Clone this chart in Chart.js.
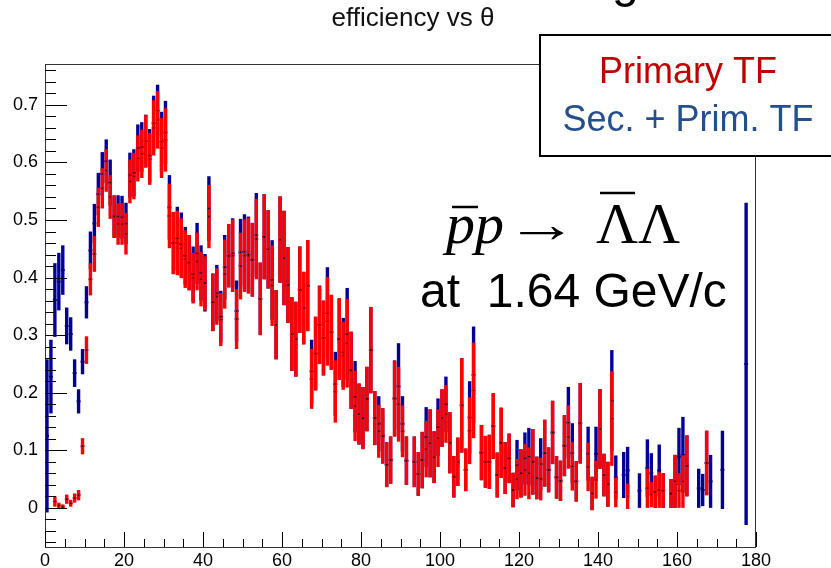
<!DOCTYPE html>
<html>
<head>
<meta charset="utf-8">
<script src="https://cdn.jsdelivr.net/npm/chart.js@4.4.1/dist/chart.umd.min.js"></script>
<style>
  html, body { margin: 0; padding: 0; background: #fff; }
  canvas { display: block; }
</style>
</head>
<body>
<canvas id="eff" width="831" height="568"></canvas>
<script>
// theta bins: 1 degree wide, 0..180
const nBins = 180;
const xTicks = [0, 20, 40, 60, 80, 100, 120, 140, 160, 180];
const yTicks = [0, 0.1, 0.2, 0.3, 0.4, 0.5, 0.6, 0.7];
const yTickLabels = ['0', '0.1', '0.2', '0.3', '0.4', '0.5', '0.6', '0.7'];

// Primary TF (red)
const primaryVal = [
  null, null, 0.011, 0.004, 0.002, 0.015, 0.008, 0.017, 0.022, 0.107,
  0.274, 0.397, 0.441, 0.522, 0.555, 0.586, 0.540, 0.506, 0.493, 0.493,
  0.476, 0.567, 0.576, 0.607, 0.615, 0.637, 0.606, 0.660, 0.674, 0.625,
  0.639, 0.507, 0.460, 0.460, 0.451, 0.432, 0.426, 0.399, 0.428, 0.397,
  0.390, 0.506, 0.357, 0.367, 0.327, 0.406, 0.438, 0.438, 0.328, 0.420,
  0.438, 0.438, 0.431, 0.467, 0.363, 0.471, 0.449, 0.386, 0.318, 0.466,
  0.434, 0.387, 0.302, 0.293, 0.379, 0.347, 0.386, 0.224, 0.268, 0.318,
  0.295, 0.324, 0.305, 0.202, 0.293, 0.264, 0.286, 0.239, 0.177, 0.163,
  0.156, 0.189, 0.274, 0.156, 0.133, 0.125, 0.075, 0.083, 0.190, 0.180,
  0.133, 0.082, null, 0.080, 0.059, 0.083, 0.102, 0.112, 0.088, 0.121,
  0.156, 0.163, 0.113, 0.054, 0.080, 0.178, 0.066, 0.134, 0.204, null,
  0.096, 0.080, 0.080, 0.142, 0.057, 0.113, 0.069, 0.086, 0.031, 0.050,
  0.060, 0.066, 0.060, 0.080, 0.052, 0.050, 0.095, 0.066, 0.131, 0.053,
  0.047, 0.108, 0.123, 0.072, 0.046, 0.147, null, 0.071, 0.025, 0.049,
  0.137, 0.057, 0.041, 0.155, 0.027, null, null, 0.020, null, null,
  null, null, 0.034, 0.023, 0.028, 0.031, 0.030, null, 0.025, 0.046,
  0.030, 0.046, 0.073, null, null, null, null, 0.078, null, null,
  null, null, null, null, null, null, null, null, null, null
];
const primaryErr = [
  null, null, 0.009, 0.005, 0.004, 0.008, 0.006, 0.008, 0.009, 0.014,
  0.024, 0.028, 0.031, 0.034, 0.035, 0.037, 0.038, 0.036, 0.036, 0.036,
  0.036, 0.038, 0.040, 0.040, 0.042, 0.045, 0.045, 0.048, 0.050, 0.052,
  0.055, 0.056, 0.054, 0.056, 0.052, 0.050, 0.048, 0.044, 0.050, 0.047,
  0.047, 0.055, 0.050, 0.049, 0.046, 0.060, 0.055, 0.063, 0.052, 0.058,
  0.063, 0.066, 0.064, 0.070, 0.063, 0.074, 0.068, 0.070, 0.060, 0.075,
  0.082, 0.066, 0.064, 0.065, 0.075, 0.063, 0.079, 0.052, 0.064, 0.068,
  0.065, 0.077, 0.065, 0.054, 0.071, 0.059, 0.077, 0.067, 0.061, 0.053,
  0.054, 0.056, 0.075, 0.047, 0.046, 0.048, 0.039, 0.041, 0.066, 0.065,
  0.045, 0.042, null, 0.044, 0.038, 0.049, 0.049, 0.059, 0.045, 0.050,
  0.050, 0.050, 0.053, 0.036, 0.042, 0.082, 0.037, 0.058, 0.083, null,
  0.048, 0.045, 0.047, 0.057, 0.039, 0.061, 0.045, 0.043, 0.030, 0.035,
  0.042, 0.045, 0.045, 0.057, 0.037, 0.037, 0.058, 0.039, 0.055, 0.037,
  0.035, 0.053, 0.055, 0.042, 0.035, 0.070, null, 0.042, 0.029, 0.033,
  0.069, 0.037, 0.039, 0.082, 0.026, null, null, 0.022, null, null,
  null, null, 0.034, 0.022, 0.028, 0.031, 0.030, null, 0.025, 0.046,
  0.030, 0.046, 0.053, null, null, null, null, 0.056, null, null,
  null, null, null, null, null, null, null, null, null, null
];

// Sec. + Prim. TF (blue)
const secPrimVal = [
  0.125, 0.228, 0.361, 0.393, 0.413, 0.316, 0.302, 0.234, 0.185, 0.254,
  0.357, 0.447, 0.494, 0.545, 0.580, 0.602, 0.565, 0.506, 0.506, 0.505,
  0.494, 0.578, 0.582, 0.625, 0.627, 0.637, 0.612, 0.668, 0.690, 0.636,
  0.652, 0.522, 0.460, 0.468, 0.458, 0.438, 0.426, 0.406, 0.442, 0.408,
  0.391, 0.520, 0.357, 0.373, 0.332, 0.418, 0.438, 0.442, 0.342, 0.444,
  0.445, 0.440, 0.431, 0.474, 0.363, 0.471, 0.449, 0.396, 0.318, 0.466,
  0.434, 0.387, 0.302, 0.293, 0.379, 0.347, 0.386, 0.237, 0.268, 0.318,
  0.295, 0.338, 0.305, 0.215, 0.293, 0.270, 0.302, 0.239, 0.193, 0.163,
  0.156, 0.189, 0.274, 0.156, 0.146, 0.125, 0.075, 0.083, 0.190, 0.211,
  0.146, 0.082, null, 0.080, 0.059, 0.083, 0.123, 0.112, 0.088, 0.140,
  0.156, 0.180, 0.113, 0.054, 0.080, 0.178, 0.066, 0.157, 0.231, null,
  0.096, 0.080, 0.080, 0.142, 0.057, 0.113, 0.069, 0.086, 0.031, 0.074,
  0.060, 0.086, 0.089, 0.080, 0.052, 0.076, 0.095, 0.066, 0.131, 0.053,
  0.047, 0.108, 0.148, 0.095, 0.046, 0.147, null, 0.094, 0.025, 0.094,
  0.137, 0.057, 0.041, 0.186, 0.053, null, 0.057, 0.065, null, null,
  0.030, null, 0.069, 0.060, 0.028, 0.065, 0.030, null, 0.025, 0.046,
  0.089, 0.092, 0.073, null, null, 0.034, 0.031, 0.078, 0.046, null,
  null, 0.066, null, null, null, null, null, 0.250, null, null
];
const secPrimErr = [
  0.133, 0.064, 0.064, 0.050, 0.043, 0.032, 0.029, 0.024, 0.021, 0.022,
  0.028, 0.033, 0.034, 0.037, 0.038, 0.038, 0.040, 0.037, 0.037, 0.037,
  0.036, 0.039, 0.041, 0.041, 0.043, 0.046, 0.046, 0.048, 0.045, 0.052,
  0.055, 0.056, 0.054, 0.055, 0.055, 0.050, 0.048, 0.048, 0.053, 0.048,
  0.050, 0.056, 0.050, 0.049, 0.045, 0.056, 0.055, 0.061, 0.053, 0.058,
  0.065, 0.066, 0.064, 0.073, 0.063, 0.074, 0.068, 0.069, 0.060, 0.075,
  0.082, 0.066, 0.064, 0.065, 0.075, 0.063, 0.079, 0.055, 0.064, 0.068,
  0.065, 0.080, 0.065, 0.056, 0.071, 0.060, 0.080, 0.067, 0.062, 0.053,
  0.054, 0.056, 0.075, 0.047, 0.048, 0.048, 0.039, 0.041, 0.066, 0.075,
  0.048, 0.042, null, 0.044, 0.038, 0.049, 0.052, 0.059, 0.045, 0.050,
  0.050, 0.048, 0.053, 0.036, 0.042, 0.082, 0.037, 0.063, 0.084, null,
  0.048, 0.045, 0.047, 0.057, 0.039, 0.061, 0.045, 0.043, 0.030, 0.044,
  0.042, 0.045, 0.050, 0.057, 0.037, 0.045, 0.058, 0.039, 0.055, 0.037,
  0.035, 0.053, 0.062, 0.052, 0.035, 0.070, null, 0.047, 0.029, 0.047,
  0.069, 0.037, 0.039, 0.088, 0.038, null, 0.040, 0.041, null, null,
  0.030, null, 0.050, 0.035, 0.028, 0.045, 0.030, null, 0.025, 0.046,
  0.050, 0.066, 0.053, null, null, 0.034, 0.028, 0.056, 0.046, null,
  null, 0.068, null, null, null, null, null, 0.280, null, null
];

const RED = '#ff0000';
const BLUE = '#000099';

function toPoints(vals) {
  const pts = [];
  vals.forEach((v, i) => { if (v !== null) pts.push({ x: i + 0.5, y: v }); });
  return pts;
}

// error bars (vertical = error, horizontal = bin width) drawn through the scales
function drawBars(chart, vals, errs, color) {
  const { ctx, scales: { x, y } } = chart;
  ctx.strokeStyle = color;
  vals.forEach((v, i) => {
    if (v === null) return;
    const px = x.getPixelForValue(i + 0.5);
    ctx.lineWidth = 3.4;
    ctx.beginPath();
    ctx.moveTo(px, y.getPixelForValue(v - errs[i]));
    ctx.lineTo(px, y.getPixelForValue(v + errs[i]));
    ctx.stroke();
    ctx.lineWidth = 2;
    ctx.beginPath();
    ctx.moveTo(x.getPixelForValue(i), y.getPixelForValue(v));
    ctx.lineTo(x.getPixelForValue(i + 1), y.getPixelForValue(v));
    ctx.stroke();
  });
}

const rootStyle = {
  id: 'rootStyle',
  beforeDatasetsDraw(chart) {
    const { ctx, chartArea: a } = chart;
    ctx.save();
    ctx.beginPath();
    ctx.rect(a.left, a.top, a.right - a.left, a.bottom - a.top);
    ctx.clip();
    drawBars(chart, secPrimVal, secPrimErr, BLUE);
    drawBars(chart, primaryVal, primaryErr, RED);
    ctx.restore();
  },
  afterDraw(chart) {
    const { ctx, chartArea: a, scales: { x, y } } = chart;
    ctx.save();
    // frame
    ctx.strokeStyle = '#333';
    ctx.lineWidth = 1;
    ctx.strokeRect(a.left + 0.5, a.top + 0.5, a.right - a.left - 1, a.bottom - a.top);
    // ticks inside the frame
    ctx.strokeStyle = '#000';
    for (let t = 0; t <= 180; t += 5) {
      const px = Math.round(x.getPixelForValue(t)) + 0.5;
      const len = t % 20 === 0 ? 15 : 8;
      ctx.beginPath(); ctx.moveTo(px, a.bottom); ctx.lineTo(px, a.bottom - len); ctx.stroke();
    }
    for (let k = -3; k <= 38; k++) {
      const py = Math.round(y.getPixelForValue(k * 0.02)) + 0.5;
      const len = k % 5 === 0 ? 22 : 11;
      ctx.beginPath(); ctx.moveTo(a.left, py); ctx.lineTo(a.left + len, py); ctx.stroke();
    }
    // title
    ctx.fillStyle = '#111';
    ctx.font = '26px "Liberation Sans", Arial, sans-serif';
    ctx.textAlign = 'center';
    ctx.textBaseline = 'alphabetic';
    ctx.fillText('efficiency vs \u03b8', 413, 26);
    // cut-off letter at the very top
    ctx.fillStyle = '#000';
    ctx.font = '48px "Liberation Sans", Arial, sans-serif';
    ctx.textAlign = 'left';
    ctx.fillText('g', 612, -3);
    // legend box
    ctx.fillStyle = '#fff';
    ctx.fillRect(540, 35, 300, 121);
    ctx.strokeStyle = '#000';
    ctx.lineWidth = 2;
    ctx.strokeRect(540, 35, 300, 121);
    ctx.textAlign = 'center';
    ctx.font = '36px "Liberation Sans", Arial, sans-serif';
    ctx.fillStyle = '#c00000';
    ctx.fillText('Primary TF', 688, 83);
    ctx.fillStyle = '#234f8d';
    ctx.fillText('Sec. + Prim. TF', 688, 131);
    // reaction
    ctx.fillStyle = '#000';
    ctx.strokeStyle = '#000';
    ctx.textAlign = 'left';
    const base = 243;
    ctx.font = 'italic 58px "Liberation Serif", "Times New Roman", serif';
    const wp = ctx.measureText('p').width;
    ctx.fillText('p', 446, base);
    ctx.fillText('p', 446 + wp, base);
    ctx.lineWidth = 2.5;
    ctx.beginPath(); ctx.moveTo(452, base - 36); ctx.lineTo(446 + wp + 3, base - 36); ctx.stroke();
    // thin serif arrow, stretched horizontally
    ctx.save();
    ctx.translate(505, base - 1);
    ctx.scale(1.4, 1);
    ctx.font = '52px "Liberation Serif", "Times New Roman", serif';
    ctx.fillText('\u2192', 0, 0);
    ctx.restore();
    ctx.font = '58px "Liberation Serif", "Times New Roman", serif';
    const wl = ctx.measureText('\u039b').width;
    ctx.fillText('\u039b', 596, base);
    ctx.fillText('\u039b', 596 + wl, base);
    ctx.beginPath(); ctx.moveTo(600, base - 50); ctx.lineTo(596 + wl - 3, base - 50); ctx.stroke();
    ctx.font = '48px "Liberation Sans", Arial, sans-serif';
    ctx.fillText('at  1.64 GeV/c', 420, 307);
    ctx.restore();
  }
};

new Chart(document.getElementById('eff'), {
  type: 'scatter',
  data: {
    datasets: [
      { label: 'Primary TF', data: toPoints(primaryVal), pointStyle: 'rect', pointRadius: 1,
        backgroundColor: '#200000', borderWidth: 0 },
      { label: 'Sec. + Prim. TF', data: toPoints(secPrimVal), pointStyle: 'rect', pointRadius: 1,
        backgroundColor: '#000040', borderWidth: 0 }
    ]
  },
  options: {
    responsive: false,
    animation: false,
    devicePixelRatio: 1,
    layout: { padding: { top: 64, right: 75, left: 0, bottom: 0 } },
    plugins: { legend: { display: false }, tooltip: { enabled: false }, title: { display: false } },
    scales: {
      x: {
        type: 'linear', min: 0, max: nBins,
        afterBuildTicks: s => { s.ticks = xTicks.map(v => ({ value: v })); },
        afterFit: s => { s.height = 21; },
        grid: { display: false, drawTicks: false },
        border: { display: false },
        ticks: { color: '#000', padding: 3, maxRotation: 0, autoSkip: false,
          font: { family: '"Liberation Sans", Arial, sans-serif', size: 18 } }
      },
      y: {
        type: 'linear', min: -0.068, max: 0.771,
        afterBuildTicks: s => { s.ticks = yTicks.map(v => ({ value: v })); },
        afterFit: s => { s.width = 45; },
        grid: { display: false, drawTicks: false },
        border: { display: false },
        ticks: { color: '#000', padding: 7, autoSkip: false,
          callback: (v, i) => yTickLabels[i],
          font: { family: '"Liberation Sans", Arial, sans-serif', size: 18 } }
      }
    }
  },
  plugins: [rootStyle]
});
</script>
</body>
</html>
